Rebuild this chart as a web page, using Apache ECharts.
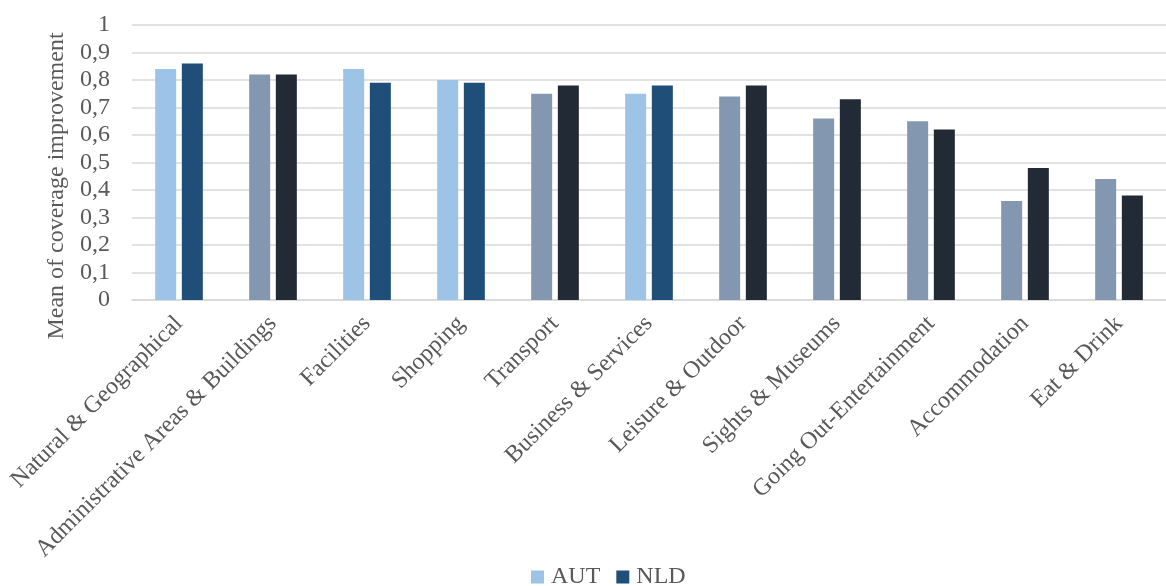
<!DOCTYPE html>
<html>
<head>
<meta charset="utf-8">
<script src="https://cdn.jsdelivr.net/npm/echarts@6/dist/echarts.min.js"></script>
<style>
  html, body { margin: 0; padding: 0; background: #ffffff; }
  #chart { width: 1166px; height: 586px; }
</style>
</head>
<body>
<div id="chart"></div>
<script>
// Point-of-interest categories
const categories = [
  'Natural & Geographical',
  'Administrative Areas & Buildings',
  'Facilities',
  'Shopping',
  'Transport',
  'Business & Services',
  'Leisure & Outdoor',
  'Sights & Museums',
  'Going Out-Entertainment',
  'Accommodation',
  'Eat & Drink'
];

// Mean of coverage improvement per country
const autValues = [0.84, 0.82, 0.84, 0.80, 0.75, 0.75, 0.74, 0.66, 0.65, 0.36, 0.44];
const nldValues = [0.86, 0.82, 0.79, 0.79, 0.78, 0.78, 0.78, 0.73, 0.62, 0.48, 0.38];

// Colour scheme per category: 0 = blue pair, 1 = slate pair
const categoryTone = [0, 1, 0, 0, 1, 0, 1, 1, 1, 1, 1];
const autColors = ['#9DC3E6', '#8497B0'];
const nldColors = ['#1F4E79', '#222A35'];

const textColor = '#595959';
const fontFamily = '"Liberation Serif", "Times New Roman", serif';

function buildData(values, palette) {
  return values.map((v, i) => ({
    value: v,
    itemStyle: { color: palette[categoryTone[i]] }
  }));
}

const chart = echarts.init(document.getElementById('chart'), null, { renderer: 'canvas' });

chart.setOption({
  animation: false,
  backgroundColor: '#ffffff',
  textStyle: { fontFamily: fontFamily, color: textColor },
  grid: { left: 132, top: 25, width: 1041, height: 275, containLabel: false },
  legend: {
    data: [
      { name: 'AUT', itemStyle: { color: autColors[0] } },
      { name: 'NLD', itemStyle: { color: nldColors[0] } }
    ],
    left: 526,
    top: 560,
    icon: 'rect',
    itemWidth: 13,
    itemHeight: 13,
    itemGap: 16,
    textStyle: { fontFamily: fontFamily, fontSize: 24, color: textColor, padding: [0, 0, 0, 2] }
  },
  xAxis: {
    type: 'category',
    data: categories,
    axisLine: { show: true, lineStyle: { color: '#d9d9d9', width: 1.5 } },
    axisTick: { show: false },
    axisLabel: {
      interval: 0,
      rotate: 45,
      margin: 20,
      fontFamily: fontFamily,
      fontSize: 24,
      color: textColor
    }
  },
  yAxis: {
    type: 'value',
    min: 0,
    max: 1,
    interval: 0.1,
    name: 'Mean of coverage improvement',
    nameLocation: 'middle',
    nameGap: 55,
    nameRotate: 90,
    nameTextStyle: { fontFamily: fontFamily, fontSize: 24, color: textColor, padding: [0, 47, 0, 0] },
    axisLine: { show: false },
    axisTick: { show: false },
    splitLine: { show: true, lineStyle: { color: '#d9d9d9', width: 1.5 } },
    axisLabel: {
      margin: 22,
      fontFamily: fontFamily,
      fontSize: 24,
      color: textColor,
      formatter: v => String(v).replace('.', ',')
    }
  },
  series: [
    {
      name: 'AUT',
      type: 'bar',
      barWidth: 21,
      barGap: '27%',
      data: buildData(autValues, autColors)
    },
    {
      name: 'NLD',
      type: 'bar',
      barWidth: 21,
      data: buildData(nldValues, nldColors)
    }
  ]
});
</script>
</body>
</html>
